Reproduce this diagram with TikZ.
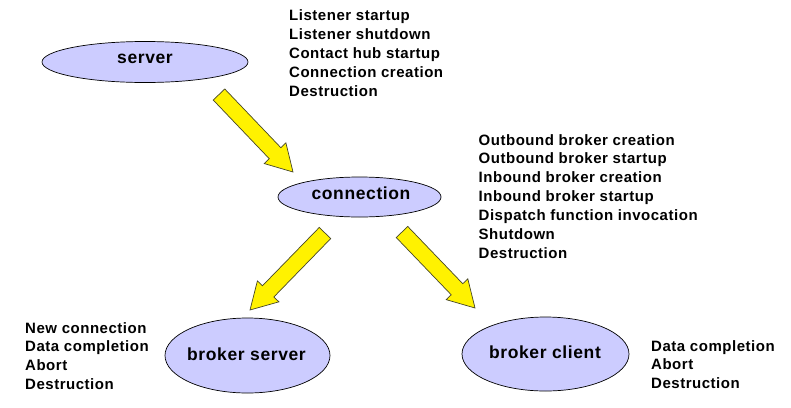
\documentclass[tikz,border=0pt]{standalone}
\usepackage{fontspec}
\setmainfont{Liberation Sans}[LetterSpace=3.5]
\usetikzlibrary{shapes.geometric,calc}
\definecolor{lav}{RGB}{204,204,255}
\definecolor{arrowedge}{RGB}{70,70,40}
\newcommand\blockarrow[2]{%
  \coordinate (tmpB) at ($(#2)!26pt!(#1)$);
  \draw[arrowbody] ($(#1)!8pt!-90:(#2)$) -- ($(tmpB)!8pt!-90:(#2)$) --
    ($(tmpB)!15pt!-90:(#2)$) -- (#2) -- ($(tmpB)!15pt!90:(#2)$) --
    ($(tmpB)!8pt!90:(#2)$) -- ($(#1)!8pt!90:(#2)$) -- cycle;}
\begin{document}
\begin{tikzpicture}[x=1pt,y=-1pt,
  state/.style={ellipse,draw=black,line width=0.7pt,fill=lav,inner sep=0pt},
  statetext/.style={inner sep=0pt,font=\fontsize{17.5}{20}\selectfont\bfseries},
  events/.style={anchor=north west,inner sep=0pt,align=left,
    font=\fontsize{15}{18.9}\selectfont\bfseries},
  arrowbody/.style={fill=yellow,draw=arrowedge,line width=0.7pt,line join=miter}]
\useasboundingbox (0,0) rectangle (791,407);
\node[state,minimum width=206pt,minimum height=41pt] (server) at (145,62) {};
\node[statetext] (serverlbl) at (145,59) {server};
\node[state,minimum width=163pt,minimum height=40pt] (connection) at (359.5,197) {};
\node[statetext] (connectionlbl) at (361,193.5) {connection};
\node[state,minimum width=165pt,minimum height=75pt] (bserver) at (247.5,355.5) {};
\node[statetext] (bserverlbl) at (246.5,354.5) {broker server};
\node[state,minimum width=167pt,minimum height=74pt] (bclient) at (545.5,354) {};
\node[statetext] (bclientlbl) at (545,352) {broker client};
\node[events] (serverev) at (289,9.5) {Listener startup\\Listener shutdown\\Contact hub startup\\Connection creation\\Destruction};
\node[events] (connev) at (478.5,134) {Outbound broker creation\\Outbound broker startup\\Inbound broker creation\\Inbound broker startup\\Dispatch function invocation\\Shutdown\\Destruction};
\node[events] (bserverev) at (25,322) {New connection\\Data completion\\Abort\\Destruction};
\node[events] (bclientev) at (651,340) {Data completion\\Abort\\Destruction};
\coordinate (a1s) at (219,94.5);
\coordinate (a1t) at (293,172);
\coordinate (a2s) at (325,233);
\coordinate (a2t) at (250,310);
\coordinate (a3s) at (402,232);
\coordinate (a3t) at (475,308);
\blockarrow{a1s}{a1t}
\blockarrow{a2s}{a2t}
\blockarrow{a3s}{a3t}
\end{tikzpicture}
\end{document}
